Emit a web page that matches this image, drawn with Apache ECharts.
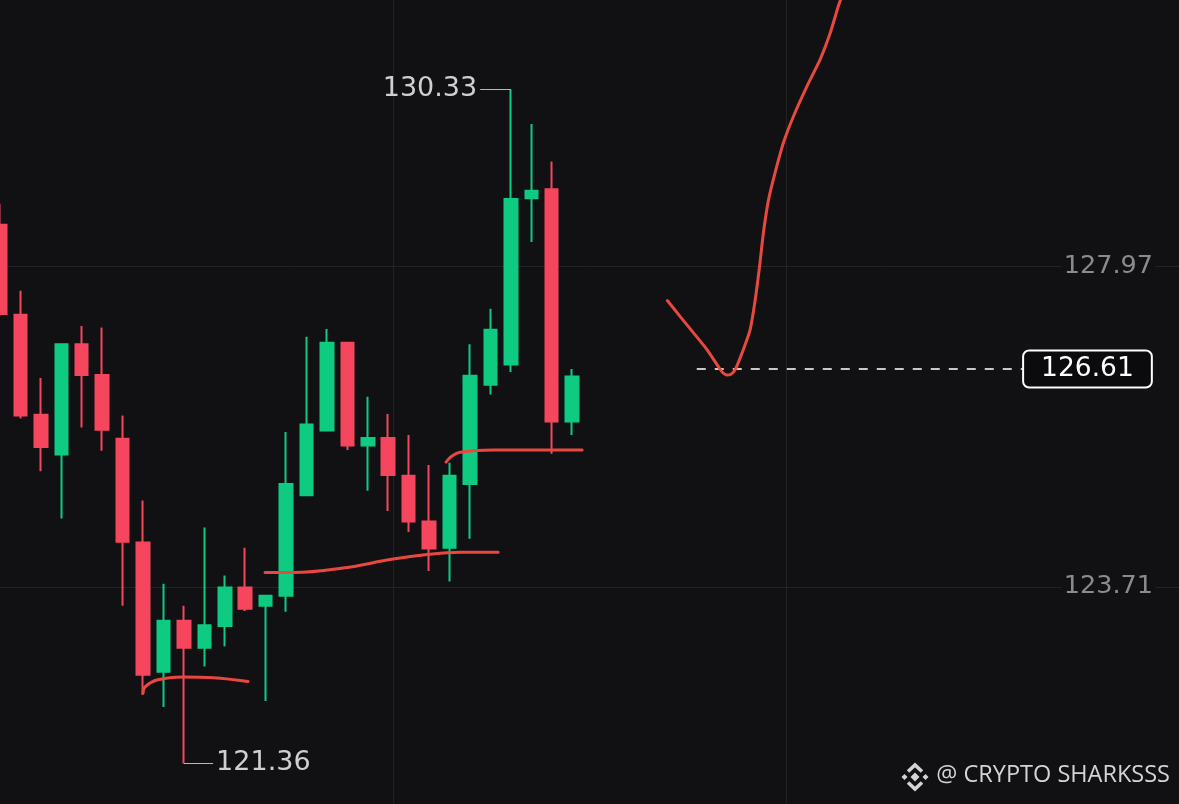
<!DOCTYPE html>
<html>
<head>
<meta charset="utf-8">
<style>
  html, body { margin: 0; padding: 0; background: #111114; }
  #chart { width: 1179px; height: 804px; }
</style>
<script src="https://cdn.jsdelivr.net/npm/echarts@6/dist/echarts.min.js"></script>
</head>
<body>
<div id="chart"></div>
<script>
// candles, left to right (x = candle index)
const opens = [128.53, 127.33, 126.00, 125.47, 126.94, 126.53, 125.68, 124.30, 122.58, 123.26,
  122.90, 123.19, 123.70, 123.46, 123.59, 124.93, 125.79, 126.96, 125.59, 125.69,
  125.19, 124.58, 124.23, 125.08, 126.40, 126.67, 128.88, 129.00, 125.91]
const closes = [127.34, 125.99, 125.57, 126.94, 126.53, 125.80, 124.31, 122.54, 123.26, 122.90,
  123.20, 123.70, 123.42, 123.59, 125.08, 125.87, 126.96, 125.59, 125.69, 125.20,
  124.58, 124.22, 125.19, 126.52, 127.13, 128.87, 128.98, 125.91, 126.51]
const lows = [127.32, 125.95, 125.25, 124.62, 125.83, 125.52, 123.46, 122.27, 122.11, 121.36,
  122.65, 122.92, 123.39, 122.19, 123.38, 124.92, 125.78, 125.53, 124.99, 124.72,
  124.44, 123.92, 123.78, 124.35, 126.27, 126.57, 128.30, 125.48, 125.73]
const highs = [128.81, 127.65, 126.49, 126.95, 127.18, 127.16, 125.99, 124.86, 123.75, 123.46,
  124.50, 123.86, 124.23, 123.59, 125.77, 127.04, 127.14, 126.97, 126.24, 126.01,
  125.73, 125.33, 125.36, 126.94, 127.41, 130.33, 129.87, 129.37, 126.61]

// price axis labels
const priceTicks = [123.71, 127.97]
const lastPrice = 126.61
const maxPrice = 130.33
const minPrice = 121.36

// hand drawn lines, [candle index, price]
const drawLow = [[7.0, 122.30], [7.1, 122.38], [7.68, 122.47], [8.96, 122.51], [10.43, 122.50], [12.14, 122.45]]
const drawMid = [[12.97, 123.90], [14.34, 123.90], [16.79, 123.96], [19.24, 124.08], [20.9, 124.14], [22.52, 124.17], [24.38, 124.17]]
const drawHigh = [[21.83, 125.37], [22.12, 125.45], [22.52, 125.50], [24.13, 125.53], [26.58, 125.53], [28.49, 125.53]]
const drawForecast = [[32.66, 127.52], [33.28, 127.31], [33.94, 127.09], [34.59, 126.87], [35.16, 126.64],
  [35.34, 126.57], [35.57, 126.53], [35.78, 126.54], [35.98, 126.60], [36.38, 126.87],
  [36.71, 127.13], [36.96, 127.53], [37.17, 127.97], [37.36, 128.42], [37.61, 128.86],
  [37.93, 129.22], [38.34, 129.62], [38.83, 129.97], [39.49, 130.37], [40.14, 130.73],
  [40.63, 131.08], [41.03, 131.44], [41.20, 131.57], [41.36, 131.69]]

const bg = '#111114'
const up = '#0ecb81'
const down = '#f6465d'
const pen = '#e8483e'
const numFont = '"DejaVu Sans"'

const candleData = opens.map((o, i) => [i, o, closes[i], lows[i], highs[i]])

const chart = echarts.init(document.getElementById('chart'), null, { renderer: 'canvas' })

function drawing(points, smooth) {
  return {
    type: 'line',
    data: points,
    smooth: smooth,
    symbol: 'none',
    silent: true,
    lineStyle: { color: pen, width: 3, cap: 'round', join: 'round' },
    z: 5
  }
}

const option = {
  backgroundColor: bg,
  animation: false,
  grid: { left: 0, right: 0, top: 0, bottom: 0, outerBoundsMode: 'none' },
  xAxis: {
    type: 'value',
    min: 0,
    max: 57.7,
    interval: 19.24,
    axisLine: { show: false },
    axisTick: { show: false },
    axisLabel: { show: false },
    splitLine: {
      show: true,
      showMinLine: false,
      showMaxLine: false,
      lineStyle: { color: '#232327', width: 1 }
    }
  },
  yAxis: {
    type: 'value',
    position: 'right',
    min: 120.82,
    max: 131.52,
    axisLine: { show: false },
    axisTick: { show: false, customValues: priceTicks },
    axisLabel: {
      inside: true,
      margin: 24,
      customValues: priceTicks,
      formatter: v => v.toFixed(2),
      color: '#8b8b8e',
      fontSize: 25.5,
      fontFamily: numFont,
      backgroundColor: bg,
      padding: [2, 2]
    },
    splitLine: { show: true, lineStyle: { color: '#232327', width: 1 } }
  },
  series: [
    {
      type: 'candlestick',
      data: candleData,
      encode: { x: 0, y: [1, 2, 3, 4] },
      barWidth: 13,
      itemStyle: {
        color: up,
        color0: down,
        borderColor: up,
        borderColor0: down,
        borderWidth: 2
      },
      markLine: {
        silent: true,
        symbol: ['none', 'none'],
        data: [
          [
            {
              coord: [34.1, lastPrice],
              lineStyle: { color: '#c8c8ca', width: 2, type: [9, 9] },
              label: {
                show: true,
                position: 'end',
                distance: 0,
                formatter: () => lastPrice.toFixed(2),
                color: '#ffffff',
                fontSize: 26.5,
                fontFamily: numFont,
                backgroundColor: '#0b0b0d',
                borderColor: '#ffffff',
                borderWidth: 2,
                borderRadius: 5,
                padding: [4, 17, 4, 17]
              }
            },
            { coord: [50.12, lastPrice] }
          ],
          [
            {
              coord: [23.5, maxPrice],
              lineStyle: { color: '#b8b8ba', width: 1, type: 'solid' },
              label: {
                show: true,
                position: 'start',
                distance: 3,
                formatter: () => maxPrice.toFixed(2),
                color: '#cfcfd1',
                fontSize: 27,
                fontFamily: numFont,
                padding: [4, 0, 0, 0]
              }
            },
            { coord: [25, maxPrice] }
          ],
          [
            {
              coord: [9, minPrice],
              lineStyle: { color: '#b8b8ba', width: 1, type: 'solid' },
              label: {
                show: true,
                position: 'end',
                distance: 3,
                formatter: () => minPrice.toFixed(2),
                color: '#cfcfd1',
                fontSize: 27,
                fontFamily: numFont,
                padding: [3, 0, 0, 0]
              }
            },
            { coord: [10.43, minPrice] }
          ]
        ]
      },
      z: 3
    },
    drawing(drawLow, 0.4),
    drawing(drawMid, 0.4),
    drawing(drawHigh, 0.4),
    drawing(drawForecast, 0.2)
  ],
  graphic: [
    {
      type: 'text',
      right: 9,
      top: 763,
      style: { text: '@ CRYPTO SHARKSSS', fill: '#d4d4d6', font: '23.5px "Open Sans"' }
    },
    {
      type: 'group',
      x: 915,
      y: 777,
      children: [
        { type: 'polygon', shape: { points: [[0, -4.5], [4.5, 0], [0, 4.5], [-4.5, 0]] }, style: { fill: '#d4d4d6' } },
        { type: 'polygon', shape: { points: [[-10.5, -3], [-7.5, 0], [-10.5, 3], [-13.5, 0]] }, style: { fill: '#d4d4d6' } },
        { type: 'polygon', shape: { points: [[10.5, -3], [13.5, 0], [10.5, 3], [7.5, 0]] }, style: { fill: '#d4d4d6' } },
        { type: 'polyline', shape: { points: [[-7, -5.5], [0, -12], [7, -5.5]] }, style: { stroke: '#d4d4d6', lineWidth: 3.5, fill: null } },
        { type: 'polyline', shape: { points: [[-7, 5.5], [0, 12], [7, 5.5]] }, style: { stroke: '#d4d4d6', lineWidth: 3.5, fill: null } }
      ]
    }
  ]
}

chart.setOption(option)
</script>
</body>
</html>
